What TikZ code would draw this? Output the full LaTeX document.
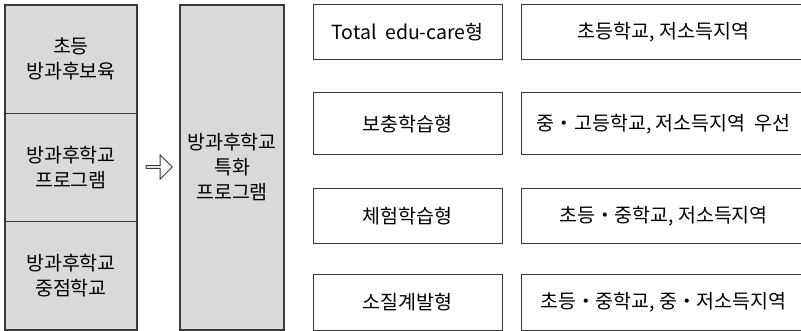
\documentclass[tikz,border=0pt]{standalone}
\usepackage{fontspec}
\setmainfont{Noto Sans CJK KR}
\usetikzlibrary{shapes.arrows}
\definecolor{boxgray}{HTML}{D9D9D9}
\definecolor{edgegray}{HTML}{3A3A3A}
\begin{document}
\begin{tikzpicture}[x=1pt,y=-1pt,
    graybox/.style={draw=edgegray, line width=1.1pt, fill=boxgray, inner sep=0pt,
        align=center, font=\fontsize{19.5}{25}\selectfont},
    whitebox/.style={draw=edgegray, line width=1pt, fill=white, inner sep=0pt,
        align=center, font=\fontsize{19.5}{24}\selectfont}]

            \clip (0,0) rectangle (801,331);

            % left column, three stacked boxes
            \node[graybox, minimum width=132, minimum height=108.3] (care) at (71,59.2) {초등\\방과후보육};
            \node[graybox, minimum width=132, minimum height=108.3] (prog) at (71,167.5) {방과후학교\\프로그램};
            \node[graybox, minimum width=132, minimum height=108.3] (focus) at (71,275.8) {방과후학교\\중점학교};

            % hollow arrow
            \node[single arrow, draw=edgegray, line width=0.9pt, fill=white, inner sep=0pt,
                  minimum height=26, minimum width=24, single arrow head extend=3.5pt,
                  single arrow tip angle=90] (shift) at (158.5,167) {};

            % middle column
            \node[graybox, minimum width=104, minimum height=325] (special) at (232,167.5) {방과후학교\\특화\\프로그램};

            % types and targets
            \node[whitebox, minimum width=189, minimum height=55] (total) at (407.5,32.5) {Total\ \ edu-care형};
            \node[whitebox, minimum width=290, minimum height=55, anchor=west] (totalT) at (521,32.5) {\hspace*{-6pt}초등학교, 저소득지역};

            \node[whitebox, minimum width=189, minimum height=62] (supp) at (407.5,124) {보충학습형};
            \node[whitebox, minimum width=290, minimum height=62, anchor=west] (suppT) at (521,124) {\hspace*{-6pt}중・고등학교, 저소득지역\ \ 우선};

            \node[whitebox, minimum width=189, minimum height=55] (expr) at (407.5,215.8) {체험학습형};
            \node[whitebox, minimum width=290, minimum height=55, anchor=west] (exprT) at (521,215.8) {\hspace*{-6pt}초등・중학교, 저소득지역};

            \node[whitebox, minimum width=189, minimum height=55] (talent) at (407.5,302.5) {소질계발형};
            \node[whitebox, minimum width=290, minimum height=55, anchor=west] (talentT) at (521,302.5) {\hspace*{-6pt}초등・중학교, 중・저소득지역};
        \end{tikzpicture}
\end{document}
